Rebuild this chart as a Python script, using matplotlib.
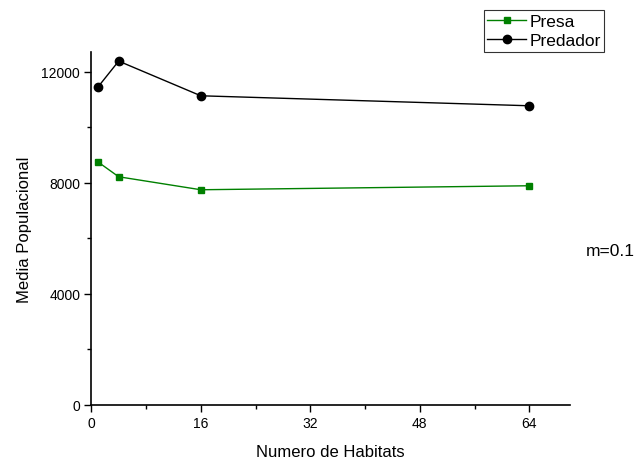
import matplotlib
matplotlib.use("Agg")
import matplotlib.pyplot as plt
from matplotlib.ticker import MultipleLocator

plt.rcParams['font.family'] = ['Liberation Sans', 'DejaVu Sans']

habitats = [1, 4, 16, 64]
presa = [8746, 8216, 7748, 7892]
predador = [11459, 12385, 11135, 10775]

fig = plt.figure(figsize=(6.38, 4.64), dpi=100)
ax = fig.add_axes([0.1431, 0.1256, 0.7508, 0.7594])

ax.plot(habitats, presa, color='#008000', marker='s', markersize=5, lw=1.0, label='Presa')
ax.plot(habitats, predador, color='black', marker='o', markersize=6, lw=1.0, label='Predador')

ax.set_xlim(0, 70)
ax.set_ylim(0, 12700)
ax.xaxis.set_major_locator(MultipleLocator(16))
ax.xaxis.set_minor_locator(MultipleLocator(8))
ax.yaxis.set_major_locator(MultipleLocator(4000))
ax.yaxis.set_minor_locator(MultipleLocator(2000))

for s in ['top', 'right']:
    ax.spines[s].set_visible(False)
ax.spines['left'].set_linewidth(1.2)
ax.spines['bottom'].set_linewidth(1.2)
ax.tick_params(which='major', direction='out', length=5, width=1, labelsize=10, pad=3)
ax.tick_params(which='minor', direction='out', length=3, width=1)

ax.set_xlabel('Numero de Habitats', fontsize=12, labelpad=10)
ax.set_ylabel('Media Populacional', fontsize=12, labelpad=7)

ax.legend(loc='upper right', fontsize=12.5, frameon=True, fancybox=False, edgecolor='black',
          borderpad=0.2, handlelength=2.2, handletextpad=0.2, labelspacing=0.25,
          borderaxespad=0, bbox_to_anchor=(604 / 638, 1 - 11 / 464),
          bbox_transform=fig.transFigure)
ax.get_legend().get_frame().set_linewidth(0.8)

fig.text(0.995, 1 - 252 / 464, 'm=0.1', fontsize=12.5, ha='right', va='center')

fig.savefig('out.png', dpi=100)
